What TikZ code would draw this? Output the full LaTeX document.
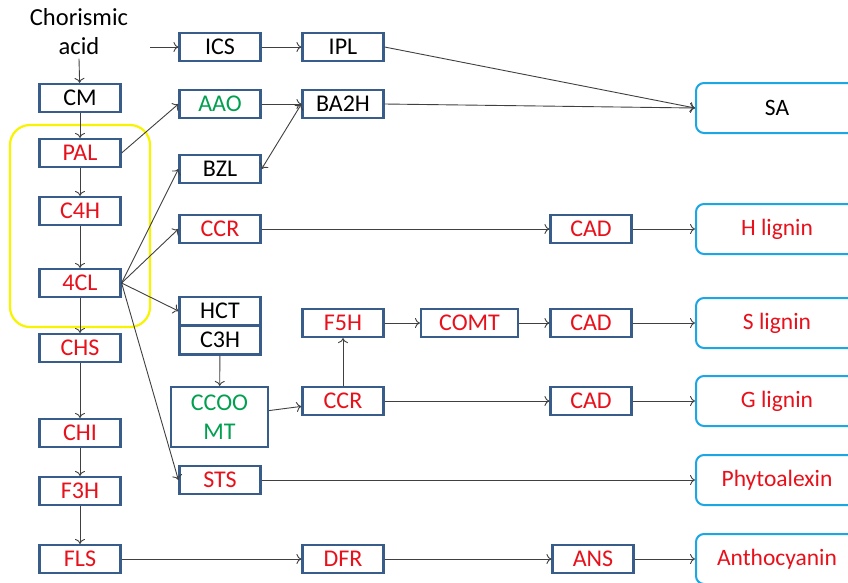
\documentclass[tikz,border=0pt]{standalone}
\usepackage{fontspec}
\setmainfont{Carlito}
\usetikzlibrary{positioning, arrows.meta}
\definecolor{boxblue}{HTML}{385D8A}
\definecolor{enzred}{HTML}{E8101A}
\definecolor{enzgreen}{HTML}{00A050}
\definecolor{prodblue}{HTML}{1CA6E4}
\definecolor{grpyellow}{HTML}{F8F400}
\tikzset{
  >={To[length=5pt,width=10pt]},
  every node/.style={font=\fontsize{24}{28}\selectfont},
  enz/.style={draw=boxblue, line width=2.2pt, minimum width=81pt,
    minimum height=28pt, inner sep=0pt},
  prod/.style={draw=prodblue, line width=2pt, rounded corners=8pt,
    minimum width=162pt, minimum height=50pt, inner sep=0pt,
    font=\fontsize{23.5}{28}\selectfont},
  link/.style={->, draw=black!75, line width=0.9pt},
}

\begin{document}
\begin{tikzpicture}[x=1pt, y=-1pt]
  \useasboundingbox (0,0) rectangle (848,582);
  \clip (0,0) rectangle (848,582);
  \fill[white] (0,0) rectangle (848,582);

  % group of core enzymes
  \draw[grpyellow, line width=2.2pt, rounded corners=20pt] (10,125) rectangle (150,327);

  % main column
  \node[align=center, font=\fontsize{24.5}{29}\selectfont] (ca) at (79,32) {Chorismic\\acid};
  \node[enz]               (cm)  at (80,98)  {CM};
  \node[enz, text=enzred]  (pal) at (80,153) {PAL};
  \node[enz, text=enzred]  (c4h) at (80,211) {C4H};
  \node[enz, text=enzred]  (4cl) at (80,283) {4CL};
  \node[enz, text=enzred]  (chs) at (80,348) {CHS};
  \node[enz, text=enzred]  (chi) at (80,433) {CHI};
  \node[enz, text=enzred]  (f3h) at (80,491) {F3H};
  \node[enz, text=enzred]  (fls) at (80,559) {FLS};

  % second column
  \coordinate (icsin) at (150,47);
  \node[enz]                (ics)  at (220,47)  {ICS};
  \node[enz, text=enzgreen] (aao)  at (220,104) {AAO};
  \node[enz]                (bzl)  at (220,169) {BZL};
  \node[enz, text=enzred]   (ccr)  at (220,229) {CCR};
  \node[enz]                (hct)  at (220,311) {HCT};
  \node[enz, minimum height=29pt] (c3h) at (220,340) {C3H};
  \node[enz, text=enzgreen, minimum width=97pt, minimum height=60pt,
    align=center, font=\fontsize{24}{29}\selectfont] (ccoo) at (219.5,417) {CCOO\\MT};
  \node[enz, text=enzred]   (sts)  at (220,480) {STS};

  % third column
  \node[enz]                (ipl)  at (343,47)  {IPL};
  \node[enz]                (ba2h) at (343,104) {BA2H};
  \node[enz, text=enzred]   (f5h)  at (343,323) {F5H};
  \node[enz, text=enzred]   (ccr2) at (343,401) {CCR};
  \node[enz, text=enzred]   (dfr)  at (343,559) {DFR};

  \node[enz, text=enzred, minimum width=97pt] (comt) at (469.5,323) {COMT};
  \node[enz, text=enzred]   (cadh) at (591,229) {CAD};
  \node[enz, text=enzred]   (cads) at (591,323) {CAD};
  \node[enz, text=enzred]   (cadg) at (591,401) {CAD};
  \node[enz, text=enzred]   (ans)  at (593,559) {ANS};

  % products
  \node[prod]               (sa)   at (777,108) {SA};
  \node[prod, text=enzred]  (hl)   at (777,229) {H lignin};
  \node[prod, text=enzred]  (sl)   at (777,323) {S lignin};
  \node[prod, text=enzred]  (gl)   at (777,401) {G lignin};
  \node[prod, text=enzred]  (phy)  at (777,480) {Phytoalexin};
  \node[prod, text=enzred]  (anth) at (777,559) {Anthocyanin};

  % connectors
  \draw[link] (ca.south) -- (cm);
  \draw[link] (cm) -- (pal);
  \draw[link] (pal) -- (c4h);
  \draw[link] (c4h) -- (4cl);
  \draw[link] (4cl) -- (chs);
  \draw[link] (chs) -- (chi);
  \draw[link] (chi) -- (f3h);
  \draw[link] (f3h) -- (fls);

  \draw[link] (icsin) -- (ics);
  \draw[link] (ics) -- (ipl);
  \draw[link] (ipl.east) -- (sa.west);
  \draw[link] (pal.east) -- (aao.west);
  \draw[link] (aao) -- (ba2h);
  \draw[link] (ba2h.east) -- (sa.west);
  \draw[link, <->] (ba2h.west) -- (bzl.east);

  \draw[link] (4cl.east) -- (bzl.west);
  \draw[link] (4cl.east) -- (ccr.west);
  \draw[link] (4cl.east) -- (hct.west);
  \draw[link] (4cl.east) -- (sts.west);

  \draw[link] (ccr) -- (cadh);
  \draw[link] (cadh) -- (hl);
  \draw[link] (c3h) -- (ccoo);
  \draw[link] (ccoo) -- (ccr2);
  \draw[link] (ccr2) -- (f5h);
  \draw[link] (f5h) -- (comt);
  \draw[link] (comt) -- (cads);
  \draw[link] (cads) -- (sl);
  \draw[link] (ccr2) -- (cadg);
  \draw[link] (cadg) -- (gl);
  \draw[link] (sts) -- (phy);
  \draw[link] (fls) -- (dfr);
  \draw[link] (dfr) -- (ans);
  \draw[link] (ans) -- (anth);
\end{tikzpicture}
\end{document}
